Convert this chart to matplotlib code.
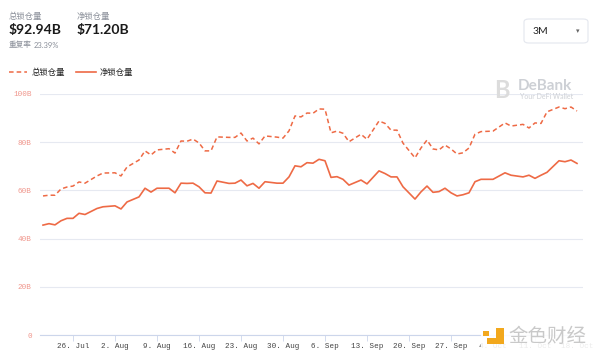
import matplotlib.pyplot as plt
from matplotlib.patches import FancyBboxPatch, Rectangle
from matplotlib.lines import Line2D
import pandas as pd

plt.rcParams['font.family'] = ['Noto Sans CJK SC', 'DejaVu Sans']

dates = ['07-21', '07-22', '07-23', '07-24', '07-25', '07-26', '07-27', '07-28',
         '07-30', '07-31', '08-02', '08-03', '08-04', '08-06', '08-07', '08-08',
         '08-09', '08-11', '08-12', '08-13', '08-14', '08-15', '08-16', '08-17',
         '08-18', '08-19', '08-21', '08-22', '08-23', '08-24', '08-25', '08-26',
         '08-27', '08-29', '08-30', '08-31', '09-01', '09-02', '09-03', '09-04',
         '09-05', '09-06', '09-07', '09-08', '09-09', '09-10', '09-12', '09-13',
         '09-15', '09-16', '09-17', '09-18', '09-19', '09-21', '09-22', '09-23',
         '09-24', '09-25', '09-26', '09-27', '09-28', '09-29', '09-30', '10-01',
         '10-02', '10-04', '10-06', '10-07', '10-09', '10-10', '10-11', '10-12',
         '10-13', '10-15', '10-16', '10-17', '10-18']

total_tvl = [57.7, 58.0, 58.0, 60.6, 61.4, 61.8, 63.5, 63.0,
             66.0, 67.2, 67.3, 66.0, 69.7, 72.6, 76.4, 74.7,
             76.8, 77.3, 75.5, 80.5, 80.4, 81.3, 79.7, 76.4,
             76.4, 82.2, 82.0, 82.0, 83.8, 80.5, 81.7, 79.3,
             82.6, 82.1, 81.7, 84.7, 90.9, 90.5, 92.1, 92.0,
             93.8, 93.7, 83.9, 84.6, 83.7, 80.2, 83.3, 81.2,
             88.8, 87.8, 85.0, 85.0, 79.6, 73.5, 77.6, 80.9,
             77.2, 76.8, 78.8, 77.2, 75.1, 75.6, 77.6, 83.3,
             84.4, 84.6, 88.0, 86.7, 87.4, 85.9, 88.0, 87.8,
             92.6, 94.6, 93.9, 94.6, 92.94]

net_tvl = [45.6, 46.2, 45.7, 47.4, 48.4, 48.4, 50.5, 50.0,
           52.5, 53.2, 53.6, 52.3, 55.2, 57.3, 60.9, 59.3,
           60.9, 60.9, 59.0, 63.0, 62.9, 63.0, 61.5, 59.0,
           58.9, 63.9, 62.9, 63.0, 64.3, 61.9, 62.9, 60.9,
           63.6, 63.0, 63.0, 65.6, 70.2, 69.8, 71.5, 71.3,
           72.9, 72.3, 65.4, 65.7, 64.6, 62.2, 64.3, 62.7,
           68.1, 67.0, 65.6, 65.6, 61.5, 56.4, 59.4, 61.8,
           59.2, 59.5, 60.9, 59.0, 57.7, 58.2, 59.0, 63.6,
           64.6, 64.6, 67.3, 66.3, 65.6, 66.3, 65.0, 66.3,
           67.5, 72.3, 71.9, 72.6, 71.20]

y_ticks = [0, 20, 40, 60, 80, 100]
y_labels = ['0', '20B', '40B', '60B', '80B', '100B']

x = pd.to_datetime(['2021-' + d for d in dates])
line_color = '#ee6a45'

fig = plt.figure(figsize=(6, 3.59), dpi=100)
ax = fig.add_axes([40 / 600, 1 - 335 / 359, 543 / 600, 241 / 359])

ax.plot(x, total_tvl, color=line_color, lw=1.1, ls=(0, (3, 2)))
ax.plot(x, net_tvl, color=line_color, lw=1.2)

ax.set_ylim(0, 100)
ax.set_xlim(pd.Timestamp('2021-07-20 12:00'), pd.Timestamp('2021-10-19'))
ax.set_yticks(y_ticks)
ax.set_yticklabels(y_labels, family='Liberation Mono', fontsize=5.5, color='#f0968c')
ax.grid(axis='y', color='#e6e9f1', lw=0.8)
ax.set_axisbelow(True)

ticks = pd.date_range('2021-07-26', '2021-10-18', freq='7D')
ax.set_xticks(ticks)
ax.set_xticklabels([f"{t.day}. {t.strftime('%b')}" for t in ticks],
                   family='Liberation Mono', fontsize=5.5, color='#444444')
ax.tick_params(axis='x', length=4, width=0.6, color='#ccd6eb', pad=2)
ax.tick_params(axis='y', length=0, pad=6)
for s in ['top', 'right', 'left']:
    ax.spines[s].set_visible(False)
ax.spines['bottom'].set_color('#ccd6eb')
ax.spines['bottom'].set_linewidth(0.8)


def ftext(px, py, s, **kw):
    return fig.text(px / 600, 1 - py / 359, s, **kw)


def frect(x0, y0, x1, y1, **kw):
    fig.add_artist(Rectangle((x0 / 600, 1 - y1 / 359), (x1 - x0) / 600, (y1 - y0) / 359,
                             transform=fig.transFigure, **kw))


# header
ftext(9, 17, '总锁仓量', fontsize=6, color='#8a8f99', va='center')
ftext(9, 30, '$92.94B', fontsize=10, color='#1a1a1a', va='center', family='Lato', weight='bold')
ftext(77, 17, '净锁仓量', fontsize=6, color='#8a8f99', va='center')
ftext(77, 30, '$71.20B', fontsize=10, color='#1a1a1a', va='center', family='Lato', weight='bold')
ftext(9, 45, '重复率', fontsize=5.5, color='#8a8f99', va='center')
ftext(34, 45, '23.39%', fontsize=5.5, color='#8a8f99', va='center', family='Lato')

# legend
fig.add_artist(Line2D([9 / 600, 27 / 600], [1 - 72 / 359] * 2, color=line_color,
                      lw=1.1, ls=(0, (3, 2))))
ftext(32, 72, '总锁仓量', fontsize=6, color='#222222', va='center')
fig.add_artist(Line2D([76 / 600, 96 / 600], [1 - 72 / 359] * 2, color=line_color, lw=1.2))
ftext(100, 72, '净锁仓量', fontsize=6, color='#222222', va='center')

# period dropdown
fig.add_artist(FancyBboxPatch((524 / 600, 1 - 43 / 359), 64 / 600, 24 / 359,
                              boxstyle='round,pad=0,rounding_size=0.008',
                              transform=fig.transFigure, fc='white', ec='#e4e7ee', lw=0.8))
ftext(533, 31, '3M', fontsize=7.5, color='#222222', va='center', family='Lato')
ftext(578, 31, '▾', fontsize=5, color='#666666', va='center', ha='center', family='DejaVu Sans')

# DeBank watermark
ftext(502, 90, 'B', fontsize=17, color='#dcdcdc', va='center', ha='center',
      weight='bold', family='Lato')
ftext(518, 86, 'DeBank', fontsize=11, color='#cdd0d5', va='center', weight='bold', family='Lato')
ftext(520, 97, 'Your DeFi Wallet', fontsize=5, color='#cdd0d5', va='center', family='Lato')

# 金色财经 watermark (covers the last tick labels, as in the source)
frect(481, 326, 596, 348, fc='white', ec='none', alpha=0.9)
frect(496, 328, 504, 344, fc='#f2a81d', ec='none')
frect(487, 338, 504, 344, fc='#f2a81d', ec='none')
frect(483, 331, 489, 336, fc='#f2a81d', ec='none')
ftext(508, 336, '金色财经', fontsize=14, color='#c9c9c9', va='center')

fig.savefig('out.png', dpi=100)
